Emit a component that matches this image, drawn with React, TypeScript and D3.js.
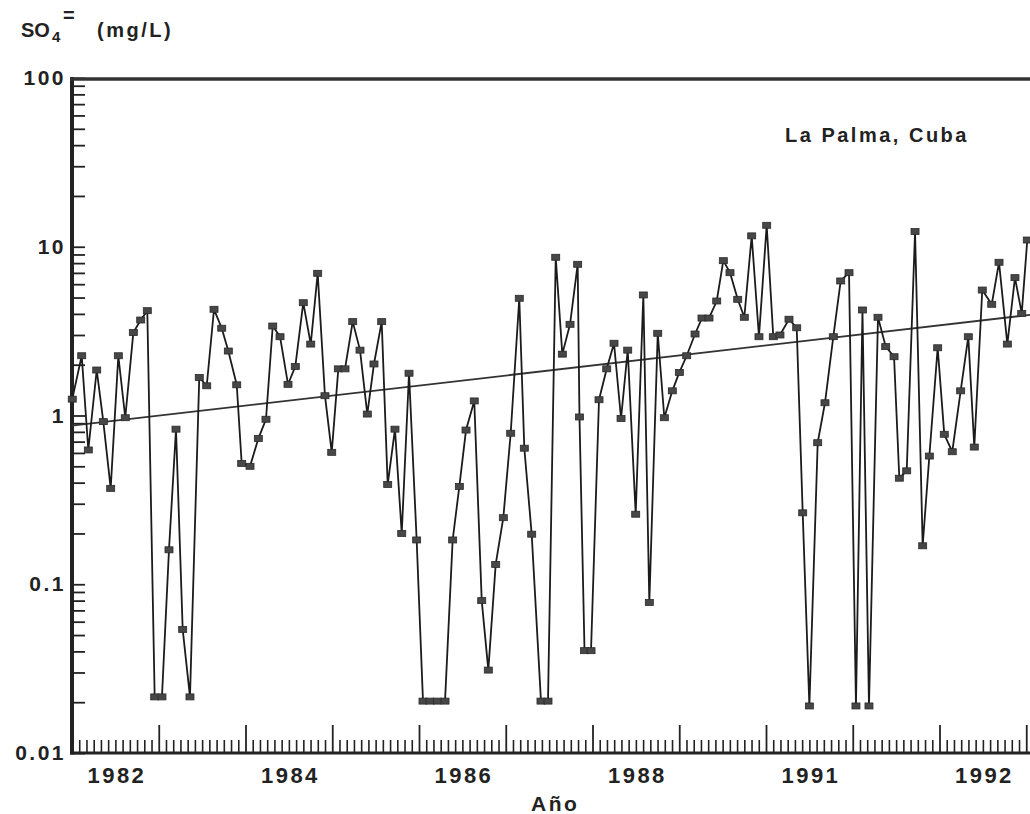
import React, { useEffect, useRef } from 'react';
import * as d3 from 'd3';

// sampling dates (decimal years)
const sampleDates = [
  1982.003, 1982.112, 1982.188, 1982.285, 1982.361, 1982.446, 1982.534, 1982.614, 1982.707, 1982.792, 1982.868, 1982.953,
  1983.037, 1983.118, 1983.199, 1983.276, 1983.360, 1983.467, 1983.553, 1983.637, 1983.726, 1983.802, 1983.899, 1983.956,
  1984.052, 1984.148, 1984.236, 1984.314, 1984.398, 1984.490, 1984.574, 1984.666, 1984.752, 1984.832, 1984.916, 1984.994,
  1985.070, 1985.147, 1985.236, 1985.320, 1985.404, 1985.481, 1985.570, 1985.639, 1985.723, 1985.801, 1985.885, 1985.973,
  1986.046, 1986.127, 1986.213, 1986.300, 1986.388, 1986.465, 1986.542, 1986.637, 1986.723, 1986.799, 1986.884, 1986.972,
  1987.057, 1987.156, 1987.214, 1987.299, 1987.406, 1987.487, 1987.576, 1987.652, 1987.741, 1987.829, 1987.850, 1987.908, 1987.983,
  1988.075, 1988.164, 1988.248, 1988.329, 1988.406, 1988.498, 1988.586, 1988.655, 1988.752, 1988.828, 1988.920,
  1989.001, 1989.086, 1989.182, 1989.262, 1989.343, 1989.432, 1989.508, 1989.585, 1989.674, 1989.750, 1989.835, 1989.919,
  1990.008, 1990.084, 1990.161, 1990.265, 1990.354, 1990.423, 1990.500, 1990.596, 1990.680, 1990.776, 1990.861, 1990.957,
  1991.037, 1991.112, 1991.187, 1991.291, 1991.380, 1991.476, 1991.537, 1991.622, 1991.718, 1991.806, 1991.883, 1991.979,
  1992.055, 1992.147, 1992.244, 1992.332, 1992.401, 1992.493, 1992.602, 1992.686, 1992.782, 1992.870, 1992.948, 1993.012,
];

// SO4 (mg/L)
const so4Values = [
  1.25, 2.26, 0.625, 1.86, 0.92, 0.37, 2.26, 0.97, 3.1, 3.68, 4.18, 0.0215,
  0.0215, 0.16, 0.83, 0.054, 0.0215, 1.68, 1.5, 4.26, 3.29, 2.41, 1.52, 0.52,
  0.5, 0.73, 0.95, 3.39, 2.93, 1.53, 1.95, 4.66, 2.65, 6.96, 1.31, 0.605,
  1.89, 1.89, 3.6, 2.44, 1.02, 2.02, 3.6, 0.39, 0.83, 0.2, 1.78, 0.183,
  0.0203, 0.0203, 0.0203, 0.0203, 0.183, 0.38, 0.82, 1.22, 0.08, 0.031, 0.131, 0.248,
  0.785, 4.95, 0.64, 0.198, 0.0203, 0.0203, 8.66, 2.31, 3.47, 7.87, 0.98, 0.0404, 0.0404,
  1.24, 1.89, 2.68, 0.96, 2.44, 0.26, 5.18, 0.078, 3.07, 0.97, 1.4,
  1.8, 2.26, 3.04, 3.78, 3.78, 4.77, 8.27, 7.02, 4.88, 3.82, 11.6, 2.93,
  13.4, 2.93, 3.0, 3.72, 3.31, 0.265, 0.019, 0.69, 1.19, 2.93, 6.27, 7.02,
  0.019, 4.22, 0.019, 3.82, 2.56, 2.23, 0.425, 0.47, 12.3, 0.169, 0.575, 2.52,
  0.774, 0.61, 1.4, 2.93, 0.65, 5.54, 4.56, 8.09, 2.65, 6.56, 4.03, 10.96,
];

// fitted trend line end points
const trendDates = [1982, 1993.05];
const trendValues = [0.87, 3.95];

const yTickValues = [100, 10, 1, 0.1, 0.01];
const yTickLabels = ['100', '10', '1', '0.1', '0.01'];

const xLabelYears = [1982, 1984, 1986, 1988, 1990, 1992];
const xLabelTexts = ['1982', '1984', '1986', '1988', '1991', '1992'];

const stationName = 'La Palma, Cuba';
const xTitle = 'Año';

const FONT = '"Liberation Sans", Arial, Helvetica, sans-serif';
const INK = '#222';

export default function App() {
  const ref = useRef<SVGSVGElement>(null);

  useEffect(() => {
    const svg = d3.select(ref.current);
    svg.selectAll('*').remove();

    const width = 1030;
    const left = 72;
    const top = 78;
    const bottom = 753;

    const x = d3.scaleLinear().domain([1982, 1993]).range([left, left + 11 * 86.75]);
    const y = d3.scaleLog().domain([0.01, 100]).range([bottom, top]);

    svg.append('rect').attr('width', width).attr('height', 814).attr('fill', '#fff');

    // ---- y axis ticks (inside) ----
    const yMinor: number[] = [];
    [0.01, 0.1, 1, 10].forEach(d => {
      for (let k = 2; k <= 9; k++) yMinor.push(k * d);
    });
    const yTicksG = svg.append('g').attr('transform', `translate(${left},0)`)
      .call(d3.axisLeft(y).tickValues([...yMinor, ...yTickValues]).tickSize(-13).tickFormat(() => ''));
    yTicksG.select('.domain').remove();
    yTicksG.selectAll('line').attr('stroke', INK).attr('stroke-width', 1.8);

    const yLabelG = svg.append('g').attr('transform', `translate(${left - 4},0)`)
      .call(d3.axisLeft(y).tickValues(yTickValues).tickSize(0).tickPadding(2)
        .tickFormat((d, i) => yTickLabels[i]));
    yLabelG.select('.domain').remove();
    yLabelG.selectAll('text')
      .attr('font-family', FONT).attr('font-size', 21).attr('font-weight', 'bold')
      .attr('fill', INK).style('letter-spacing', '2.5px');

    // ---- x axis ticks (inside) ----
    const xMajor = d3.range(1983, 1994);
    const xMinor: number[] = [];
    d3.range(1982, 1993).forEach(yr => {
      for (let m = 1; m < 12; m++) xMinor.push(yr + m / 12);
    });
    const xMinorG = svg.append('g').attr('transform', `translate(0,${bottom})`)
      .call(d3.axisBottom(x).tickValues(xMinor).tickSize(-13).tickFormat(() => ''));
    xMinorG.select('.domain').remove();
    xMinorG.selectAll('line').attr('stroke', INK).attr('stroke-width', 1.6);

    const xMajorG = svg.append('g').attr('transform', `translate(0,${bottom})`)
      .call(d3.axisBottom(x).tickValues(xMajor).tickSize(-28).tickFormat(() => ''));
    xMajorG.select('.domain').remove();
    xMajorG.selectAll('line').attr('stroke', INK).attr('stroke-width', 1.8);

    const xLabelG = svg.append('g').attr('transform', `translate(0,${bottom})`)
      .call(d3.axisBottom(x).tickValues(xLabelYears.map(v => v + 0.5)).tickSize(0).tickPadding(14)
        .tickFormat((d, i) => xLabelTexts[i]));
    xLabelG.select('.domain').remove();
    xLabelG.selectAll('text')
      .attr('font-family', FONT).attr('font-size', 22).attr('font-weight', 'bold')
      .attr('fill', INK).attr('dx', 1).style('letter-spacing', '2.5px');

    // ---- frame ----
    svg.append('line').attr('x1', left).attr('x2', left).attr('y1', top - 1).attr('y2', bottom + 1.5)
      .attr('stroke', INK).attr('stroke-width', 4);
    svg.append('line').attr('x1', left - 2).attr('x2', width).attr('y1', top + 1).attr('y2', top + 1)
      .attr('stroke', '#333').attr('stroke-width', 3.5);
    svg.append('line').attr('x1', left - 2).attr('x2', width).attr('y1', bottom).attr('y2', bottom)
      .attr('stroke', INK).attr('stroke-width', 3);

    // ---- trend line ----
    const trendLine = d3.line<number>()
      .x((d, i) => x(trendDates[i]))
      .y(d => y(d));
    svg.append('path').datum(trendValues)
      .attr('d', trendLine)
      .attr('fill', 'none').attr('stroke', '#333').attr('stroke-width', 1.8);

    // ---- data series ----
    const dataLine = d3.line<number>()
      .x((d, i) => x(sampleDates[i]))
      .y(d => y(d));
    svg.append('path').datum(so4Values)
      .attr('d', dataLine)
      .attr('fill', 'none').attr('stroke', '#1b1b1b').attr('stroke-width', 1.8)
      .attr('stroke-linejoin', 'miter');

    svg.append('g').selectAll('rect')
      .data(so4Values).join('rect')
      .attr('x', (d, i) => x(sampleDates[i]) - 4)
      .attr('y', d => y(d) - 3)
      .attr('width', 8).attr('height', 6)
      .attr('fill', '#474747').attr('stroke', '#2a2a2a').attr('stroke-width', 0.8);

    // ---- texts ----
    const title = svg.append('g').attr('font-family', FONT).attr('font-weight', 'bold').attr('fill', INK);
    title.append('text').attr('x', 21).attr('y', 37).attr('font-size', 20).text('SO');
    title.append('text').attr('x', 52).attr('y', 42).attr('font-size', 15).text('4');
    title.append('text').attr('x', 63).attr('y', 22).attr('font-size', 20).text('=');
    title.append('text').attr('x', 97).attr('y', 37).attr('font-size', 20)
      .style('letter-spacing', '2.5px').text('(mg/L)');

    svg.append('text').attr('x', 785).attr('y', 142)
      .attr('font-family', FONT).attr('font-weight', 'bold').attr('font-size', 20)
      .attr('fill', INK).style('letter-spacing', '2.5px').text(stationName);

    svg.append('text').attr('x', 531).attr('y', 811)
      .attr('font-family', FONT).attr('font-weight', 'bold').attr('font-size', 21)
      .attr('fill', INK).style('letter-spacing', '2.5px').text(xTitle);
  }, []);

  return (
    <svg
      ref={ref}
      width={1030}
      height={814}
      style={{ position: 'absolute', left: 0, top: 0, display: 'block' }}
    />
  );
}
